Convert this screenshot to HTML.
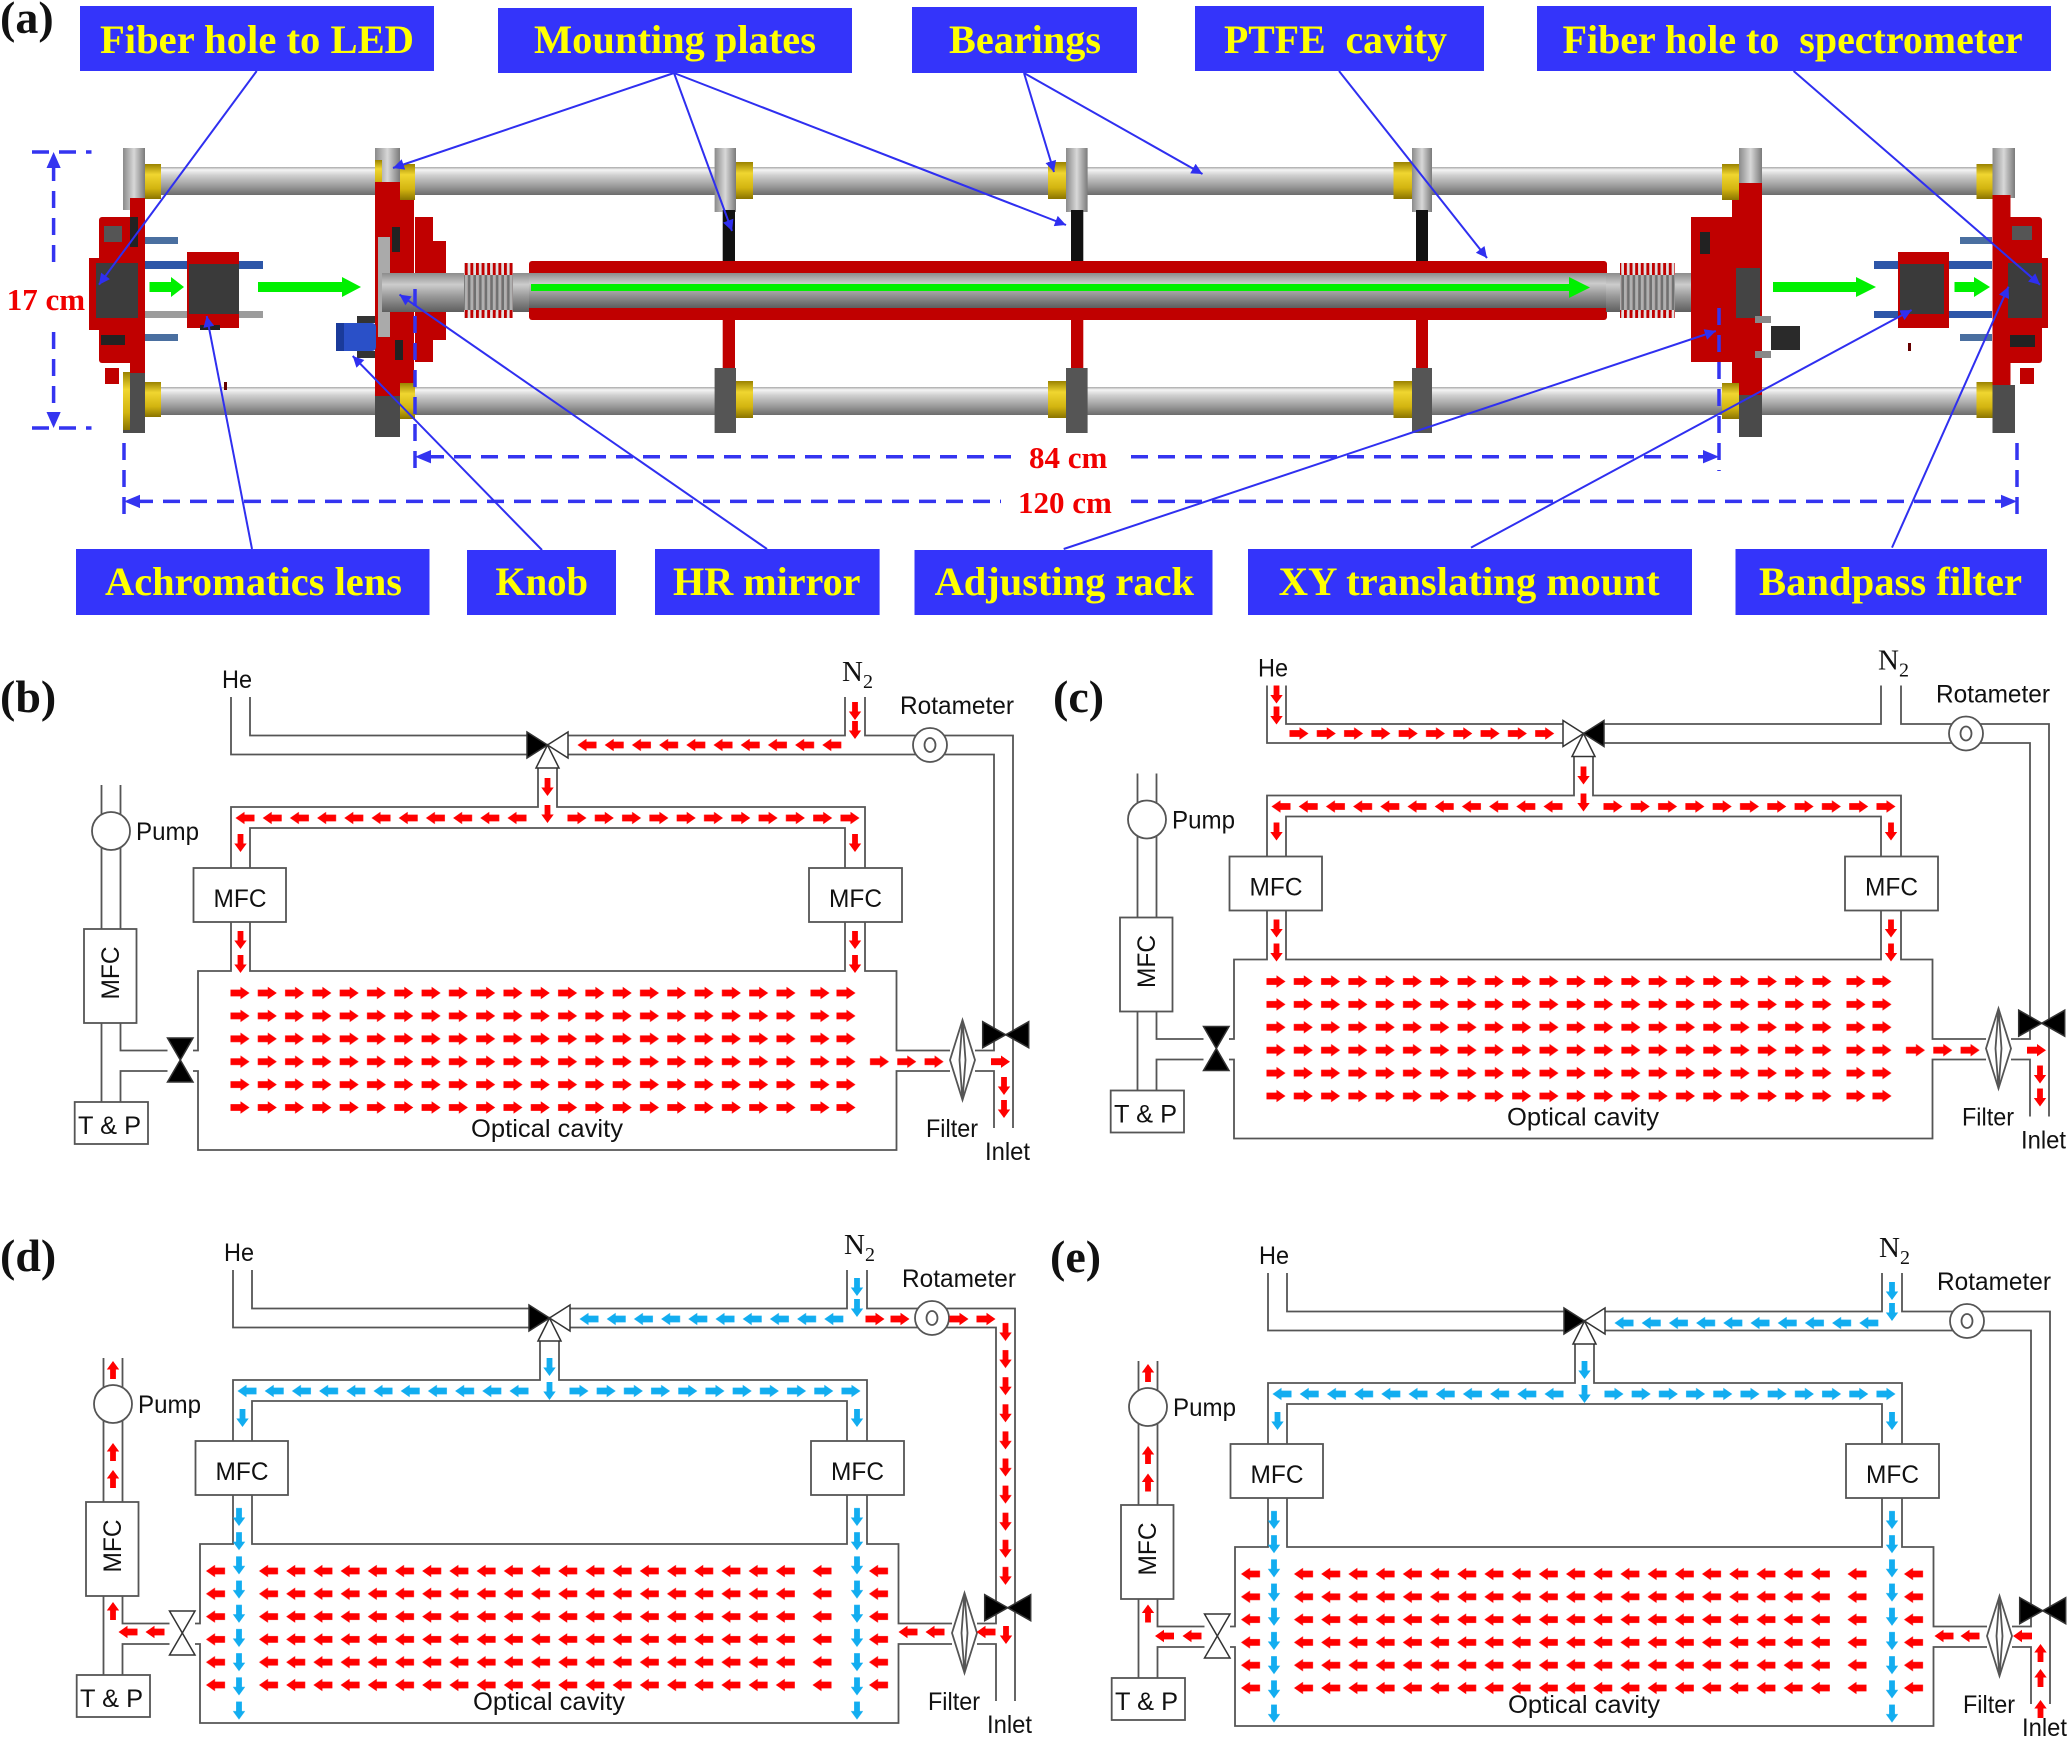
<!DOCTYPE html>
<html><head><meta charset="utf-8"><style>html,body{margin:0;padding:0;background:#fff;overflow:hidden}svg{display:block}</style></head>
<body>
<svg xmlns="http://www.w3.org/2000/svg" width="2067" height="1737" viewBox="0 0 2067 1737">
<defs>
<linearGradient id="rod" x1="0" y1="0" x2="0" y2="1"><stop offset="0" stop-color="#a8a8a8"/><stop offset="0.1" stop-color="#f4f4f4"/><stop offset="0.3" stop-color="#cfcfcf"/><stop offset="0.65" stop-color="#a0a0a0"/><stop offset="1" stop-color="#6c6c6c"/></linearGradient>
<linearGradient id="gold" x1="0" y1="0" x2="0" y2="1"><stop offset="0" stop-color="#9a8200"/><stop offset="0.3" stop-color="#f0d630"/><stop offset="0.7" stop-color="#d2b410"/><stop offset="1" stop-color="#8a7400"/></linearGradient>
<linearGradient id="capH" x1="0" y1="0" x2="1" y2="0"><stop offset="0" stop-color="#8a8a8a"/><stop offset="0.5" stop-color="#d8d8d8"/><stop offset="1" stop-color="#7a7a7a"/></linearGradient>
<linearGradient id="tube" x1="0" y1="0" x2="0" y2="1"><stop offset="0" stop-color="#8c8c8c"/><stop offset="0.3" stop-color="#cccccc"/><stop offset="0.6" stop-color="#999"/><stop offset="1" stop-color="#5e5e5e"/></linearGradient>
<pattern id="bell" width="5.6" height="60" patternUnits="userSpaceOnUse"><rect width="3" height="60" fill="#c00000"/><rect x="3" width="2.6" height="60" fill="#e0e0e0"/></pattern>
<pattern id="bellg" width="5.6" height="60" patternUnits="userSpaceOnUse"><rect width="3" height="60" fill="#b0b0b0"/><rect x="3" width="2.6" height="60" fill="#707070"/></pattern>
<marker id="ah" viewBox="0 0 10 10" refX="10" refY="5" markerWidth="16" markerHeight="11" markerUnits="userSpaceOnUse" orient="auto"><path d="M0,0L10,5L0,10z" fill="#2f2ff0"/></marker>

<path id="ar" d="M-9.5,-3.4H0.5V-6.2L9.5,0L0.5,6.2V3.4H-9.5Z"/>
<path id="al" d="M9.5,-3.4H-0.5V-6.2L-9.5,0L-0.5,6.2V3.4H9.5Z"/>
<path id="ad" d="M-2.9,-9H2.9V0.5H6.2L0,9L-6.2,0.5H-2.9Z"/>
<path id="au" d="M-2.9,9H2.9V-0.5H6.2L0,-9L-6.2,-0.5H-2.9Z"/>
<pattern id="pRR" width="27.3" height="22.9" patternUnits="userSpaceOnUse"><use href="#ar" x="13.65" y="11.45" fill="#f00"/></pattern>
<pattern id="pRL" width="27.2" height="22.8" patternUnits="userSpaceOnUse"><use href="#al" x="13.6" y="11.4" fill="#f00"/></pattern>
<pattern id="pBL" width="27.2" height="22.8" patternUnits="userSpaceOnUse"><use href="#al" x="13.6" y="11.4" fill="#12adf0"/></pattern>
<pattern id="pBR" width="27.2" height="22.8" patternUnits="userSpaceOnUse"><use href="#ar" x="13.6" y="11.4" fill="#12adf0"/></pattern>
<pattern id="pBD" width="20" height="24.2" patternUnits="userSpaceOnUse"><use href="#ad" x="10" y="12.1" fill="#12adf0"/></pattern>
<pattern id="pRD" width="20" height="27.1" patternUnits="userSpaceOnUse"><use href="#ad" x="10" y="13.55" fill="#f00"/></pattern>

<g id="pipes" fill="none" stroke="#555" stroke-width="1.8">
<path d="M231,697V754.5H527M250,697V735.5H527M568,735.5H845V697M865,697V735.5H1013V1128M568,754.5H994V1050.5H975M975,1071H994V1128M538,768V807H231V868M557,768V807H865V868M250,868V828H845V868M231,922V971H198V1050.5H193M250,922V971H845V922M865,922V971H896.5V1050.5H950M193,1071H198V1150H896.5V1071H950M101.5,785V1102M120.5,785V929M120.5,1023V1050.5H167.5M120.5,1102V1071H167.5"/>
<g fill="#fff">
<rect x="193.5" y="868" width="92.5" height="54"/>
<rect x="809" y="868" width="93" height="54"/>
<rect x="84" y="929" width="52.5" height="94"/>
<rect x="74.7" y="1102" width="73.3" height="42"/>
<circle cx="111" cy="831" r="19"/>
<circle cx="930" cy="745" r="17"/>
<polygon points="962.5,1020 975,1060 962.5,1100 950,1060"/>
</g>
<ellipse cx="930" cy="745" rx="5.5" ry="7"/>
<path d="M962.5,1020L959.5,1060L962.5,1100M962.5,1020L965.5,1060L962.5,1100"/>
</g>
</defs>

<!-- ================= PANEL (a) ================= -->
<text x="0" y="33" font-family="Liberation Serif, serif" font-weight="bold" font-size="46" fill="#111">(a)</text>

<rect x="128" y="167" width="1886" height="28" fill="url(#rod)"/>
<rect x="128" y="387" width="1886" height="28" fill="url(#rod)"/>

<rect x="123" y="148" width="22" height="62" fill="url(#capH)"/>
<rect x="123" y="372" width="22" height="61" fill="#4d4d4d"/>
<rect x="123" y="372" width="7" height="58" fill="url(#gold)"/>
<rect x="145" y="164" width="16" height="35" fill="url(#gold)"/>
<rect x="145" y="382" width="16" height="35" fill="url(#gold)"/>
<rect x="145" y="261" width="118" height="8" fill="#2d56a8"/>
<rect x="145" y="311" width="118" height="7" fill="#9c9c9c"/>
<rect x="145" y="237" width="33" height="7" fill="#4a6fa0"/>
<rect x="145" y="334" width="33" height="7" fill="#4a6fa0"/>
<rect x="130" y="198" width="15" height="175" fill="#c00000"/>
<rect x="99" y="217" width="35" height="146" rx="3" fill="#c00000"/>
<rect x="89" y="258" width="12" height="72" fill="#c00000"/>
<rect x="96" y="263" width="42" height="55" fill="#3c3c3c"/>
<rect x="104" y="226" width="18" height="16" fill="#555"/>
<rect x="101" y="335" width="24" height="10" fill="#222"/>
<rect x="130" y="217" width="8" height="30" fill="#222"/>
<rect x="105" y="368" width="14" height="16" fill="#c00000"/>
<rect x="187" y="252" width="52" height="76" fill="#c00000"/>
<rect x="189" y="264" width="50" height="50" fill="#3a3a3a"/>
<rect x="200" y="325" width="20" height="5" fill="#222"/>
<rect x="224" y="382" width="3" height="8" fill="#600"/>

<rect x="375" y="148" width="25" height="35" fill="url(#capH)"/>
<rect x="375" y="395" width="25" height="42" fill="#4a4a4a"/>
<rect x="375" y="160" width="7" height="30" fill="url(#gold)"/>
<rect x="400" y="164" width="15" height="36" fill="url(#gold)"/>
<rect x="400" y="383" width="15" height="36" fill="url(#gold)"/>
<rect x="375" y="182" width="25" height="214" fill="#c00000"/>
<rect x="400" y="200" width="14" height="183" fill="#c00000"/>
<rect x="415" y="217" width="18" height="145" fill="#c00000"/>
<rect x="433" y="241" width="13" height="99" fill="#c00000"/>
<rect x="378" y="237" width="12" height="100" fill="#aaa"/>
<rect x="392" y="227" width="8" height="25" fill="#222"/>
<rect x="395" y="340" width="8" height="20" fill="#222"/>
<rect x="382" y="273" width="149" height="39" fill="url(#tube)"/>
<rect x="464" y="263" width="49" height="55" fill="url(#bell)"/>
<rect x="464" y="275" width="49" height="35" fill="url(#bellg)"/>
<rect x="336" y="323" width="40" height="28" rx="4" fill="#2a50c8"/>
<rect x="336" y="323" width="8" height="28" fill="#1a3a9a"/>
<rect x="357" y="316" width="18" height="7" fill="#333"/>
<rect x="357" y="351" width="18" height="7" fill="#333"/>

<rect x="714.6" y="148" width="21.4" height="64" fill="url(#capH)"/>
<rect x="722.7" y="210" width="12.3" height="52" fill="#111"/>
<rect x="722.7" y="319" width="12.3" height="50" fill="#c00000"/>
<rect x="714.6" y="368" width="21.4" height="65" fill="#555"/>
<rect x="736" y="162" width="17" height="37" fill="url(#gold)"/>
<rect x="736" y="381" width="17" height="37" fill="url(#gold)"/>

<rect x="1066" y="148" width="21.6" height="64" fill="url(#capH)"/>
<rect x="1071" y="210" width="12.3" height="52" fill="#111"/>
<rect x="1071" y="319" width="12.3" height="50" fill="#c00000"/>
<rect x="1066" y="368" width="21.6" height="65" fill="#555"/>
<rect x="1048" y="162" width="18" height="37" fill="url(#gold)"/>
<rect x="1048" y="381" width="18" height="37" fill="url(#gold)"/>

<rect x="1412" y="148" width="20" height="64" fill="url(#capH)"/>
<rect x="1416" y="210" width="12" height="52" fill="#111"/>
<rect x="1416" y="319" width="12" height="50" fill="#c00000"/>
<rect x="1412" y="368" width="20" height="65" fill="#555"/>
<rect x="1393.5" y="162" width="18.5" height="37" fill="url(#gold)"/>
<rect x="1393.5" y="381" width="18.5" height="37" fill="url(#gold)"/>

<rect x="529" y="261" width="1078" height="59" rx="3" fill="#c00000"/>
<rect x="529" y="273" width="1078" height="35" fill="url(#tube)"/>
<rect x="531" y="284" width="1040" height="7" fill="#00f000"/>
<polygon points="1569,277 1590,287.5 1569,298" fill="#00f000"/>

<rect x="1606" y="273" width="105" height="39" fill="url(#tube)"/>
<rect x="1620" y="263" width="55" height="55" fill="url(#bell)"/>
<rect x="1620" y="275" width="55" height="35" fill="url(#bellg)"/>
<rect x="1691" y="217" width="41" height="145" fill="#c00000"/>
<rect x="1732" y="182" width="30" height="214" fill="#c00000"/>
<rect x="1739" y="148" width="23" height="35" fill="url(#capH)"/>
<rect x="1739" y="395" width="23" height="42" fill="#4a4a4a"/>
<rect x="1722" y="164" width="17" height="36" fill="url(#gold)"/>
<rect x="1722" y="383" width="17" height="36" fill="url(#gold)"/>
<rect x="1736" y="268" width="24" height="50" fill="#444"/>
<rect x="1700" y="232" width="10" height="22" fill="#222"/>
<rect x="1771" y="326" width="29" height="24" fill="#2a2a2a"/>
<rect x="1755" y="316" width="16" height="7" fill="#888"/>
<rect x="1755" y="351" width="16" height="7" fill="#888"/>

<rect x="1874" y="261" width="118" height="8" fill="#2d56a8"/>
<rect x="1874" y="311" width="118" height="7" fill="#2d56a8"/>
<rect x="1960" y="237" width="32" height="7" fill="#4a6fa0"/>
<rect x="1960" y="334" width="32" height="7" fill="#4a6fa0"/>
<rect x="1898" y="252" width="51" height="76" fill="#c00000"/>
<rect x="1900" y="264" width="44" height="50" fill="#3a3a3a"/>
<rect x="1908" y="343" width="3" height="8" fill="#600"/>

<rect x="1992.5" y="148" width="22.5" height="50" fill="url(#capH)"/>
<rect x="1992.5" y="385" width="22.5" height="48" fill="#4d4d4d"/>
<rect x="1976.5" y="164" width="16" height="35" fill="url(#gold)"/>
<rect x="1976.5" y="382" width="16" height="36" fill="url(#gold)"/>
<rect x="1992.5" y="195" width="18" height="190" fill="#c00000"/>
<rect x="2005" y="217" width="37" height="146" rx="3" fill="#c00000"/>
<rect x="2040" y="258" width="8" height="70" fill="#c00000"/>
<rect x="2008" y="263" width="34" height="55" fill="#3c3c3c"/>
<rect x="2010" y="335" width="25" height="12" fill="#222"/>
<rect x="2012" y="226" width="20" height="14" fill="#555"/>
<rect x="2020" y="368" width="14" height="16" fill="#c00000"/>

<g fill="#00f000">
<polygon points="149.5,282 171,282 171,277 184,287 171,297 171,292 149.5,292"/>
<polygon points="258,282 342,282 342,277 361,287 342,297 342,292 258,292"/>
<polygon points="1773,282 1856,282 1856,277 1876,287 1856,297 1856,292 1773,292"/>
<polygon points="1954.5,282 1974,282 1974,277 1990,287 1974,297 1974,292 1954.5,292"/>
</g>

<g stroke="#3434f0" stroke-width="3.5" stroke-dasharray="17 10" fill="none">
<line x1="53.6" y1="164" x2="53.6" y2="262"/>
<line x1="53.6" y1="332" x2="53.6" y2="416"/>
<line x1="32" y1="152" x2="91.5" y2="152"/>
<line x1="32" y1="428" x2="91.5" y2="428"/>
<line x1="427" y1="456.7" x2="1013" y2="456.7"/>
<line x1="1131" y1="456.7" x2="1707" y2="456.7"/>
<line x1="415" y1="289" x2="415" y2="472"/>
<line x1="1719" y1="308" x2="1719" y2="471"/>
<line x1="136" y1="501.4" x2="1001" y2="501.4"/>
<line x1="1131" y1="501.4" x2="2005" y2="501.4"/>
<line x1="124" y1="443" x2="124" y2="524"/>
<line x1="2017" y1="443" x2="2017" y2="522"/>
</g>
<g fill="#3434f0">
<polygon points="53.6,152 46.5,168 60.7,168"/>
<polygon points="53.6,428 46.5,412 60.7,412"/>
<polygon points="415,456.7 431,450 431,463.4"/>
<polygon points="1719,456.7 1703,450 1703,463.4"/>
<polygon points="124,501.4 140,494.7 140,508.1"/>
<polygon points="2017,501.4 2001,494.7 2001,508.1"/>
</g>
<g font-family="Liberation Serif, serif" font-weight="bold" font-size="31" fill="#f00000">
<text x="6.7" y="310">17 cm</text>
<text x="1029" y="468">84 cm</text>
<text x="1018" y="513">120 cm</text>
</g>

<g stroke="#2f2ff0" stroke-width="2" fill="none" marker-end="url(#ah)">
<line x1="256.7" y1="71" x2="99" y2="284.7"/>
<line x1="674" y1="73" x2="393" y2="168"/>
<line x1="674" y1="73" x2="732" y2="231"/>
<line x1="674" y1="73" x2="1066" y2="225"/>
<line x1="1024" y1="73" x2="1054" y2="172"/>
<line x1="1024" y1="73" x2="1202.5" y2="174"/>
<line x1="1339" y1="71" x2="1487" y2="258"/>
<line x1="1793.6" y1="71" x2="2040" y2="284.7"/>
<line x1="252" y1="549" x2="206.7" y2="316"/>
<line x1="542" y1="550" x2="352.7" y2="356"/>
<line x1="767" y1="549" x2="399.5" y2="294.6"/>
<line x1="1063.7" y1="549" x2="1715.8" y2="331"/>
<line x1="1471" y1="547.6" x2="1911.6" y2="310"/>
<line x1="1892" y1="547.6" x2="2008.5" y2="286.7"/>
</g>

<g fill="#3434fa">
<rect x="80" y="6" width="354" height="65"/>
<rect x="498" y="8" width="354" height="65"/>
<rect x="912" y="7" width="225" height="66"/>
<rect x="1195" y="6" width="289" height="65"/>
<rect x="1537" y="6" width="514" height="65"/>
<rect x="76" y="549" width="353.5" height="66"/>
<rect x="467" y="550" width="149" height="65"/>
<rect x="655" y="549" width="224.6" height="66"/>
<rect x="914.5" y="550" width="298" height="65"/>
<rect x="1248" y="549" width="444" height="66"/>
<rect x="1735.5" y="549" width="311.5" height="66"/>
</g>
<g font-family="Liberation Serif, serif" font-weight="bold" font-size="40" fill="#ffff00">
<text x="100" y="53" textLength="314" lengthAdjust="spacingAndGlyphs">Fiber hole to LED</text>
<text x="534" y="53" textLength="282" lengthAdjust="spacingAndGlyphs">Mounting plates</text>
<text x="949" y="53" textLength="152" lengthAdjust="spacingAndGlyphs">Bearings</text>
<text x="1224" y="53" textLength="223" lengthAdjust="spacingAndGlyphs">PTFE&#160; cavity</text>
<text x="1562.6" y="53" textLength="460" lengthAdjust="spacingAndGlyphs">Fiber hole to&#160; spectrometer</text>
<text x="105" y="595" textLength="297" lengthAdjust="spacingAndGlyphs">Achromatics lens</text>
<text x="495.5" y="595" textLength="92.5" lengthAdjust="spacingAndGlyphs">Knob</text>
<text x="673" y="595" textLength="187.5" lengthAdjust="spacingAndGlyphs">HR mirror</text>
<text x="934.6" y="595" textLength="259.4" lengthAdjust="spacingAndGlyphs">Adjusting rack</text>
<text x="1278.6" y="595" textLength="381" lengthAdjust="spacingAndGlyphs">XY translating mount</text>
<text x="1759" y="595" textLength="263" lengthAdjust="spacingAndGlyphs">Bandpass filter</text>
</g>

<g font-family="Liberation Serif, serif" font-weight="bold" font-size="46" fill="#111">
<text x="0" y="712">(b)</text>
<text x="1053" y="712">(c)</text>
<text x="0" y="1271">(d)</text>
<text x="1050" y="1272">(e)</text>
</g>

<!-- ================= PANEL (b) ================= -->
<g transform="translate(0,0)">
<use href="#pipes"/>
<g stroke="#333" stroke-width="1.5">
<path d="M527,732L527,758L547.5,745Z" fill="#000"/>
<path d="M568,732L568,758L547.5,745Z" fill="#fff"/>
<path d="M547.5,745L536,768L559,768Z" fill="#fff"/>
<path d="M982.7,1021.7L982.7,1047.7L1005.7,1034.7Z" fill="#000"/>
<path d="M1028.7,1021.7L1028.7,1047.7L1005.7,1034.7Z" fill="#000"/>
<path d="M167.5,1038L193,1038L180.3,1060Z" fill="#000"/>
<path d="M167.5,1082L193,1082L180.3,1060Z" fill="#000"/>
</g>
<g font-family="Liberation Sans, Arial, sans-serif" font-size="25" fill="#111">
<text x="222" y="688" textLength="30" lengthAdjust="spacingAndGlyphs">He</text>
<text x="842" y="681" font-family="Liberation Serif, serif" font-size="29">N<tspan font-size="20" dy="7">2</tspan></text>
<text x="900" y="714" textLength="114" lengthAdjust="spacingAndGlyphs">Rotameter</text>
<text x="136" y="840" textLength="63" lengthAdjust="spacingAndGlyphs">Pump</text>
<text x="213.5" y="907" textLength="53" lengthAdjust="spacingAndGlyphs">MFC</text>
<text x="829" y="907" textLength="53" lengthAdjust="spacingAndGlyphs">MFC</text>
<text transform="translate(119,999.5) rotate(-90)" textLength="53" lengthAdjust="spacingAndGlyphs">MFC</text>
<text x="78" y="1134" textLength="63" lengthAdjust="spacingAndGlyphs">T &amp; P</text>
<text x="471" y="1137" textLength="152" lengthAdjust="spacingAndGlyphs">Optical cavity</text>
<text x="926" y="1137" textLength="52" lengthAdjust="spacingAndGlyphs">Filter</text>
<text x="985" y="1160" textLength="45" lengthAdjust="spacingAndGlyphs">Inlet</text>
</g>
<rect transform="translate(226.35,981.55)" width="573.3" height="137.4" fill="url(#pRR)"/>
<rect transform="translate(806.35,981.55)" width="27.3" height="137.4" fill="url(#pRR)"/>
<rect transform="translate(832.35,981.55)" width="27.3" height="137.4" fill="url(#pRR)"/>
<rect transform="translate(865.85,1050.25)" width="81.9" height="22.9" fill="url(#pRR)"/>
<rect transform="translate(573.4,733.6)" width="272" height="22.8" fill="url(#pRL)"/>
<rect transform="translate(231.4,806.6)" width="299.2" height="22.8" fill="url(#pRL)"/>
<rect transform="translate(563.35,806.55)" width="300.3" height="22.9" fill="url(#pRR)"/>
<g fill="#f00">
<use href="#ar" x="1000.5" y="1061.7"/>
<use href="#ad" x="1004" y="1086"/><use href="#ad" x="1004" y="1109"/>
<use href="#ad" x="855" y="711"/><use href="#ad" x="855" y="730"/>
<use href="#ad" x="547.5" y="787"/><use href="#ad" x="547.5" y="814"/>
<use href="#ad" x="240.5" y="843"/><use href="#ad" x="855" y="843"/>
<use href="#ad" x="240.5" y="940"/><use href="#ad" x="240.5" y="964"/>
<use href="#ad" x="855" y="940"/><use href="#ad" x="855" y="964"/>
</g>
</g>

<!-- ================= PANEL (c) ================= -->
<g transform="translate(1036,-11.5)">
<use href="#pipes"/>
<g stroke="#333" stroke-width="1.5">
<path d="M527,732L527,758L547.5,745Z" fill="#fff"/>
<path d="M568,732L568,758L547.5,745Z" fill="#000"/>
<path d="M547.5,745L536,768L559,768Z" fill="#fff"/>
<path d="M982.7,1021.7L982.7,1047.7L1005.7,1034.7Z" fill="#000"/>
<path d="M1028.7,1021.7L1028.7,1047.7L1005.7,1034.7Z" fill="#000"/>
<path d="M167.5,1038L193,1038L180.3,1060Z" fill="#000"/>
<path d="M167.5,1082L193,1082L180.3,1060Z" fill="#000"/>
</g>
<g font-family="Liberation Sans, Arial, sans-serif" font-size="25" fill="#111">
<text x="222" y="688" textLength="30" lengthAdjust="spacingAndGlyphs">He</text>
<text x="842" y="681" font-family="Liberation Serif, serif" font-size="29">N<tspan font-size="20" dy="7">2</tspan></text>
<text x="900" y="714" textLength="114" lengthAdjust="spacingAndGlyphs">Rotameter</text>
<text x="136" y="840" textLength="63" lengthAdjust="spacingAndGlyphs">Pump</text>
<text x="213.5" y="907" textLength="53" lengthAdjust="spacingAndGlyphs">MFC</text>
<text x="829" y="907" textLength="53" lengthAdjust="spacingAndGlyphs">MFC</text>
<text transform="translate(119,999.5) rotate(-90)" textLength="53" lengthAdjust="spacingAndGlyphs">MFC</text>
<text x="78" y="1134" textLength="63" lengthAdjust="spacingAndGlyphs">T &amp; P</text>
<text x="471" y="1137" textLength="152" lengthAdjust="spacingAndGlyphs">Optical cavity</text>
<text x="926" y="1137" textLength="52" lengthAdjust="spacingAndGlyphs">Filter</text>
<text x="985" y="1160" textLength="45" lengthAdjust="spacingAndGlyphs">Inlet</text>
</g>
<rect transform="translate(226.35,981.55)" width="573.3" height="137.4" fill="url(#pRR)"/>
<rect transform="translate(806.35,981.55)" width="27.3" height="137.4" fill="url(#pRR)"/>
<rect transform="translate(832.35,981.55)" width="27.3" height="137.4" fill="url(#pRR)"/>
<rect transform="translate(865.85,1050.25)" width="81.9" height="22.9" fill="url(#pRR)"/>
<rect transform="translate(249.35,733.55)" width="273" height="22.9" fill="url(#pRR)"/>
<rect transform="translate(231.4,806.6)" width="299.2" height="22.8" fill="url(#pRL)"/>
<rect transform="translate(563.35,806.55)" width="300.3" height="22.9" fill="url(#pRR)"/>
<g fill="#f00">
<use href="#ar" x="1000.5" y="1061.7"/>
<use href="#ad" x="1004" y="1086"/><use href="#ad" x="1004" y="1109"/>
<use href="#ad" x="240.5" y="706"/><use href="#ad" x="240.5" y="727"/>
<use href="#ad" x="547.5" y="787"/><use href="#ad" x="547.5" y="814"/>
<use href="#ad" x="240.5" y="843"/><use href="#ad" x="855" y="843"/>
<use href="#ad" x="240.5" y="940"/><use href="#ad" x="240.5" y="964"/>
<use href="#ad" x="855" y="940"/><use href="#ad" x="855" y="964"/>
</g>
</g>

<!-- ================= PANEL (d) ================= -->
<g transform="translate(2,573)">
<use href="#pipes"/>
<g stroke="#333" stroke-width="1.5">
<path d="M527,732L527,758L547.5,745Z" fill="#000"/>
<path d="M568,732L568,758L547.5,745Z" fill="#fff"/>
<path d="M547.5,745L536,768L559,768Z" fill="#fff"/>
<path d="M982.7,1021.7L982.7,1047.7L1005.7,1034.7Z" fill="#000"/>
<path d="M1028.7,1021.7L1028.7,1047.7L1005.7,1034.7Z" fill="#000"/>
<path d="M167.5,1038L193,1038L180.3,1060Z" fill="#fff"/>
<path d="M167.5,1082L193,1082L180.3,1060Z" fill="#fff"/>
</g>
<g font-family="Liberation Sans, Arial, sans-serif" font-size="25" fill="#111">
<text x="222" y="688" textLength="30" lengthAdjust="spacingAndGlyphs">He</text>
<text x="842" y="681" font-family="Liberation Serif, serif" font-size="29">N<tspan font-size="20" dy="7">2</tspan></text>
<text x="900" y="714" textLength="114" lengthAdjust="spacingAndGlyphs">Rotameter</text>
<text x="136" y="840" textLength="63" lengthAdjust="spacingAndGlyphs">Pump</text>
<text x="213.5" y="907" textLength="53" lengthAdjust="spacingAndGlyphs">MFC</text>
<text x="829" y="907" textLength="53" lengthAdjust="spacingAndGlyphs">MFC</text>
<text transform="translate(119,999.5) rotate(-90)" textLength="53" lengthAdjust="spacingAndGlyphs">MFC</text>
<text x="78" y="1134" textLength="63" lengthAdjust="spacingAndGlyphs">T &amp; P</text>
<text x="471" y="1137" textLength="152" lengthAdjust="spacingAndGlyphs">Optical cavity</text>
<text x="926" y="1137" textLength="52" lengthAdjust="spacingAndGlyphs">Filter</text>
<text x="985" y="1160" textLength="45" lengthAdjust="spacingAndGlyphs">Inlet</text>
</g>
<rect transform="translate(252.9,986.6)" width="544" height="136.8" fill="url(#pRL)"/>
<rect transform="translate(199.9,986.6)" width="27.2" height="136.8" fill="url(#pRL)"/>
<rect transform="translate(806.4,986.6)" width="27.2" height="136.8" fill="url(#pRL)"/>
<rect transform="translate(862.9,986.6)" width="27.2" height="136.8" fill="url(#pRL)"/>
<rect transform="translate(227,931.9)" width="20" height="217.8" fill="url(#pBD)"/>
<rect transform="translate(845,931.9)" width="20" height="217.8" fill="url(#pBD)"/>
<rect transform="translate(573.4,734.6)" width="272" height="22.8" fill="url(#pBL)"/>
<rect transform="translate(231.4,806.6)" width="299.2" height="22.8" fill="url(#pBL)"/>
<rect transform="translate(563.4,806.6)" width="299.2" height="22.8" fill="url(#pBR)"/>
<rect transform="translate(993.5,745.45)" width="20" height="271" fill="url(#pRD)"/>
<g fill="#12adf0">
<use href="#ad" x="855" y="714"/><use href="#ad" x="855" y="735"/>
<use href="#ad" x="547.5" y="794"/><use href="#ad" x="547.5" y="818"/>
<use href="#ad" x="240.5" y="845"/><use href="#ad" x="855" y="845"/>
</g>
<g fill="#f00">
<use href="#ar" x="873" y="746"/><use href="#ar" x="898" y="746"/><use href="#ar" x="957" y="746"/><use href="#ar" x="984" y="746"/>
<use href="#al" x="906" y="1059"/><use href="#al" x="933" y="1059"/><use href="#al" x="984" y="1059"/>
<use href="#ad" x="1004" y="1062"/>
<use href="#al" x="126" y="1059"/><use href="#al" x="153" y="1059"/>
<use href="#au" x="111" y="797"/><use href="#au" x="111" y="879"/><use href="#au" x="111" y="906"/><use href="#au" x="111" y="1038"/>
</g>
</g>

<!-- ================= PANEL (e) ================= -->
<g transform="translate(1037,576)">
<use href="#pipes"/>
<g stroke="#333" stroke-width="1.5">
<path d="M527,732L527,758L547.5,745Z" fill="#000"/>
<path d="M568,732L568,758L547.5,745Z" fill="#fff"/>
<path d="M547.5,745L536,768L559,768Z" fill="#fff"/>
<path d="M982.7,1021.7L982.7,1047.7L1005.7,1034.7Z" fill="#000"/>
<path d="M1028.7,1021.7L1028.7,1047.7L1005.7,1034.7Z" fill="#000"/>
<path d="M167.5,1038L193,1038L180.3,1060Z" fill="#fff"/>
<path d="M167.5,1082L193,1082L180.3,1060Z" fill="#fff"/>
</g>
<g font-family="Liberation Sans, Arial, sans-serif" font-size="25" fill="#111">
<text x="222" y="688" textLength="30" lengthAdjust="spacingAndGlyphs">He</text>
<text x="842" y="681" font-family="Liberation Serif, serif" font-size="29">N<tspan font-size="20" dy="7">2</tspan></text>
<text x="900" y="714" textLength="114" lengthAdjust="spacingAndGlyphs">Rotameter</text>
<text x="136" y="840" textLength="63" lengthAdjust="spacingAndGlyphs">Pump</text>
<text x="213.5" y="907" textLength="53" lengthAdjust="spacingAndGlyphs">MFC</text>
<text x="829" y="907" textLength="53" lengthAdjust="spacingAndGlyphs">MFC</text>
<text transform="translate(119,999.5) rotate(-90)" textLength="53" lengthAdjust="spacingAndGlyphs">MFC</text>
<text x="78" y="1134" textLength="63" lengthAdjust="spacingAndGlyphs">T &amp; P</text>
<text x="471" y="1137" textLength="152" lengthAdjust="spacingAndGlyphs">Optical cavity</text>
<text x="926" y="1137" textLength="52" lengthAdjust="spacingAndGlyphs">Filter</text>
<text x="985" y="1160" textLength="45" lengthAdjust="spacingAndGlyphs">Inlet</text>
</g>
<rect transform="translate(252.9,986.6)" width="544" height="136.8" fill="url(#pRL)"/>
<rect transform="translate(199.9,986.6)" width="27.2" height="136.8" fill="url(#pRL)"/>
<rect transform="translate(806.4,986.6)" width="27.2" height="136.8" fill="url(#pRL)"/>
<rect transform="translate(862.9,986.6)" width="27.2" height="136.8" fill="url(#pRL)"/>
<rect transform="translate(227,931.9)" width="20" height="217.8" fill="url(#pBD)"/>
<rect transform="translate(845,931.9)" width="20" height="217.8" fill="url(#pBD)"/>
<rect transform="translate(573.4,735.6)" width="272" height="22.8" fill="url(#pBL)"/>
<rect transform="translate(231.4,806.6)" width="299.2" height="22.8" fill="url(#pBL)"/>
<rect transform="translate(563.4,806.6)" width="299.2" height="22.8" fill="url(#pBR)"/>
<g fill="#12adf0">
<use href="#ad" x="855" y="715"/><use href="#ad" x="855" y="736"/>
<use href="#ad" x="547.5" y="794"/><use href="#ad" x="547.5" y="818"/>
<use href="#ad" x="240.5" y="845"/><use href="#ad" x="855" y="845"/>
</g>
<g fill="#f00">
<use href="#al" x="907" y="1060"/><use href="#al" x="933" y="1060"/><use href="#al" x="985.5" y="1060"/>
<use href="#au" x="1003.5" y="1077"/><use href="#au" x="1003.5" y="1102"/><use href="#au" x="1003.5" y="1133"/>
<use href="#al" x="127.5" y="1060"/><use href="#al" x="155" y="1060"/>
<use href="#au" x="111" y="797"/><use href="#au" x="111" y="879"/><use href="#au" x="111" y="906.5"/><use href="#au" x="111" y="1037.5"/>
</g>
</g>
</svg>
</body></html>
